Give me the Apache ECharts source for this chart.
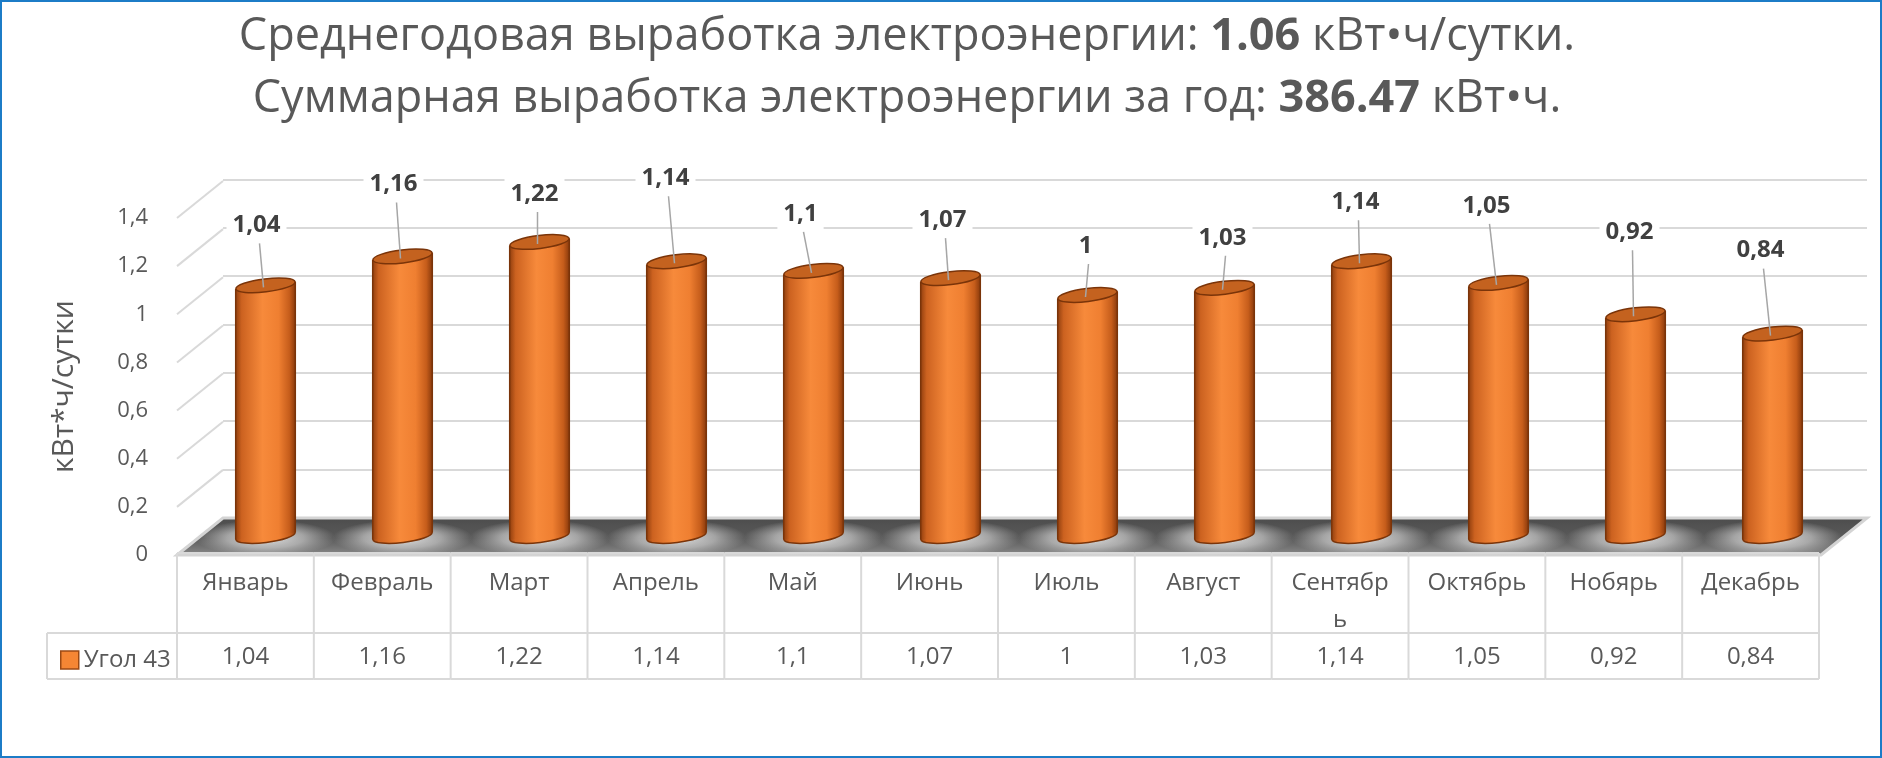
<!DOCTYPE html>
<html>
<head>
<meta charset="utf-8">
<script src="https://cdn.jsdelivr.net/npm/echarts/dist/echarts.min.js"></script>
<style>
html,body{margin:0;padding:0;background:#fff;}
#c{width:1882px;height:758px;}
</style>
</head>
<body>
<div id="c"></div>
<script>
// ---------- data ----------
const categories = ['Январь','Февраль','Март','Апрель','Май','Июнь','Июль','Август','Сентябрь','Октябрь','Нобярь','Декабрь'];
const values = [1.04, 1.16, 1.22, 1.14, 1.1, 1.07, 1, 1.03, 1.14, 1.05, 0.92, 0.84];
const seriesName = 'Угол 43';
const yTicks = [0, 0.2, 0.4, 0.6, 0.8, 1, 1.2, 1.4];
const titleLine1 = ['Среднегодовая выработка электроэнергии: ', '1.06', ' кВт•ч/сутки.'];
const titleLine2 = ['Суммарная выработка электроэнергии за год: ', '386.47', ' кВт•ч.'];
const yAxisTitle = 'кВт*ч/сутки';

// ---------- layout (label placement, as dragged in the original) ----------
const labelLift  = [60, 72, 48, 83, 57, 58, 49, 50, 59, 77, 82, 83];
const labelShift = [-9, -9, -5, -11, -13, -8, -2, -2, -6, -12, -6, -12];

const FONT = '"Open Sans", "DejaVu Sans", sans-serif';
const TXT = '#595959';
const GRIDC = '#D9D9D9';
const DEPTH_DX = 46, DEPTH_DY = -37;
const CELL_TEXT_MAX = 106;
const fmt = v => String(v).replace('.', ',');

// wrap a category name the way the table cell does (character wrap when too wide)
const measureCtx = document.createElement('canvas').getContext('2d');
function wrapCell(text, font, maxW) {
  measureCtx.font = font;
  if (measureCtx.measureText(text).width <= maxW) return text;
  const lines = [];
  let cur = '';
  for (const ch of text) {
    if (cur && measureCtx.measureText(cur + ch).width > maxW) { lines.push(cur); cur = ch; }
    else cur += ch;
  }
  if (cur) lines.push(cur);
  return lines.join('\n');
}

const chart = echarts.init(document.getElementById('c'));

function rich(parts) {
  return '{n|' + parts[0] + '}{b|' + parts[1] + '}{n|' + parts[2] + '}';
}
const titleRich = {
  n: {fontSize: 45, fontFamily: FONT, color: TXT, fontWeight: 'normal'},
  b: {fontSize: 45, fontFamily: FONT, color: TXT, fontWeight: 'bold'}
};

// diagonal gridlines (left side wall)
function renderDiag(params, api) {
  const p = api.coord([0, api.value(1)]);
  return {
    type: 'line',
    shape: {x1: p[0], y1: p[1], x2: p[0] + DEPTH_DX, y2: p[1] + DEPTH_DY},
    style: {stroke: GRIDC, lineWidth: 2}
  };
}

// floor
function renderFloor(params, api) {
  const a = api.coord([0, 0]);
  const b = api.coord([1, 0]);
  return {
    type: 'polygon',
    shape: {points: [[a[0], a[1]], [b[0], b[1]], [b[0] + DEPTH_DX, b[1] + DEPTH_DY], [a[0] + DEPTH_DX, a[1] + DEPTH_DY]]},
    style: {
      fill: new echarts.graphic.LinearGradient(0, 0, 0, 1, [
        {offset: 0, color: '#4c4c4c'},
        {offset: 0.55, color: '#5a5a5a'},
        {offset: 1, color: '#8e8e8e'}
      ]),
      stroke: '#D4D4D4', lineWidth: 3
    }
  };
}

// soft glow around bar bases
function renderHalo(params, api) {
  const base = api.coord([api.value(0), 0]);
  return {
    type: 'circle',
    shape: {cx: 0, cy: 0, r: 70},
    x: base[0], y: base[1] + 2,
    scaleY: 0.26,
    style: {
      fill: new echarts.graphic.RadialGradient(0.5, 0.5, 0.5, [
        {offset: 0, color: 'rgba(235,235,235,0.95)'},
        {offset: 0.55, color: 'rgba(215,215,215,0.6)'},
        {offset: 1, color: 'rgba(200,200,200,0)'}
      ])
    }
  };
}

// cylinders + data labels
function renderCylinder(params, api) {
  const i = api.value(0), v = api.value(1);
  const top = api.coord([i, v]);
  const base = api.coord([i, 0]);
  const bw = api.size([1, 0])[0] * 0.435;
  const rx = bw / 2, ry = 6.5, rot = 0.12, d = rx * Math.sin(rot);
  const cx = top[0];
  const grad = () => new echarts.graphic.LinearGradient(0, 0, 1, 0, [
    {offset: 0, color: '#93400F'},
    {offset: 0.1, color: '#CC6220'},
    {offset: 0.45, color: '#F78A3B'},
    {offset: 0.72, color: '#EF7F31'},
    {offset: 0.9, color: '#C65D1B'},
    {offset: 1, color: '#8A3A0C'}
  ]);
  const ly = top[1] - labelLift[i];
  const lx = cx + labelShift[i];
  return {
    type: 'group',
    children: [
      {type: 'ellipse', shape: {cx: 0, cy: 0, rx: rx, ry: ry}, x: cx, y: base[1], rotation: rot,
        style: {fill: grad(), stroke: '#7A3409', lineWidth: 1.5}},
      {type: 'polygon', shape: {points: [[cx - rx, top[1] + d], [cx + rx, top[1] - d], [cx + rx, base[1] - d], [cx - rx, base[1] + d]]},
        style: {fill: grad()}},
      {type: 'line', shape: {x1: cx - rx, y1: top[1] + d, x2: cx - rx, y2: base[1] + d}, style: {stroke: '#7A3409', lineWidth: 1.5}},
      {type: 'line', shape: {x1: cx + rx, y1: top[1] - d, x2: cx + rx, y2: base[1] - d}, style: {stroke: '#7A3409', lineWidth: 1.5}},
      {type: 'ellipse', shape: {cx: 0, cy: 0, rx: rx, ry: ry}, x: cx, y: top[1], rotation: rot,
        style: {fill: '#C4621F', stroke: '#7A3409', lineWidth: 1.5}},
      {type: 'line', shape: {x1: lx + 3, y1: ly + 18, x2: cx - 2, y2: top[1] + 2},
        style: {stroke: '#A6A6A6', lineWidth: 1.5}},
      {type: 'text', x: lx, y: ly,
        style: {text: fmt(v), align: 'center', verticalAlign: 'middle', font: 'bold 24px ' + FONT,
          fill: '#404040', backgroundColor: '#fff', padding: [3, 6]}}
    ]
  };
}

// data table
function renderTable(params, api) {
  const i = api.value(0);
  const cs = params.coordSys;
  const c = api.coord([i, 0]);
  const w = api.size([1, 0])[0];
  const x0 = c[0] - w / 2, x1 = c[0] + w / 2;
  const top = cs.y, mid = cs.y + 80, bot = cs.y + cs.height;
  const ls = {stroke: GRIDC, lineWidth: 2};
  const cellFont = '24px ' + FONT;
  const ch = [
    {type: 'line', shape: {x1: x0, y1: top, x2: x0, y2: bot}, style: ls},
    {type: 'line', shape: {x1: x0, y1: top, x2: x1, y2: top}, style: ls},
    {type: 'line', shape: {x1: x0, y1: mid, x2: x1, y2: mid}, style: ls},
    {type: 'line', shape: {x1: x0, y1: bot, x2: x1, y2: bot}, style: ls},
    {type: 'text', x: c[0], y: top + 12,
      style: {text: wrapCell(categories[i], cellFont, CELL_TEXT_MAX), align: 'center', verticalAlign: 'top',
        font: cellFont, fill: TXT, lineHeight: 37}},
    {type: 'text', x: c[0], y: (mid + bot) / 2 + 1,
      style: {text: fmt(api.value(1)), align: 'center', verticalAlign: 'middle', font: cellFont, fill: TXT}}
  ];
  if (i === categories.length - 1) {
    ch.push({type: 'line', shape: {x1: x1, y1: top, x2: x1, y2: bot}, style: ls});
  }
  if (i === 0) {
    const lx = x0 - 130;
    ch.push({type: 'line', shape: {x1: lx, y1: mid, x2: x0, y2: mid}, style: ls});
    ch.push({type: 'line', shape: {x1: lx, y1: bot, x2: x0, y2: bot}, style: ls});
    ch.push({type: 'line', shape: {x1: lx, y1: mid, x2: lx, y2: bot}, style: ls});
  }
  return {type: 'group', children: ch};
}

const option = {
  animation: false,
  backgroundColor: '#fff',
  title: [
    {text: rich(titleLine1), left: 902, top: 10, textAlign: 'center', textStyle: {rich: titleRich}},
    {text: rich(titleLine2), left: 902, top: 72, textAlign: 'center', textStyle: {rich: titleRich}}
  ],
  legend: {
    data: [{name: seriesName, itemStyle: {color: '#F58634', borderColor: '#9C4A14', borderWidth: 1.5}}],
    left: 55, top: 643, icon: 'rect', itemWidth: 18, itemHeight: 18, itemGap: 6,
    selectedMode: false,
    textStyle: {fontSize: 24, color: TXT, fontFamily: FONT}
  },
  graphic: [
    {type: 'rect', shape: {x: 1, y: 1, width: 1880, height: 756}, style: {fill: 'none', stroke: '#1C7CC7', lineWidth: 2}, z: 100}
  ],
  grid: [
    {left: 223, right: 15, top: 179.3, bottom: 240, outerBoundsMode: 'none'},
    {left: 177, right: 61, top: 218, bottom: 203, outerBoundsMode: 'none'},
    {left: 197, right: 41, top: 198.6, bottom: 222, outerBoundsMode: 'none'},
    {left: 177, right: 63, top: 553, bottom: 79, outerBoundsMode: 'none'}
  ],
  xAxis: [
    {gridIndex: 0, type: 'value', min: 0, max: 1, show: false},
    {gridIndex: 1, type: 'value', min: 0, max: 1, show: false},
    {gridIndex: 2, type: 'category', data: categories, show: false},
    {gridIndex: 3, type: 'category', data: categories, show: false}
  ],
  yAxis: [
    {gridIndex: 0, type: 'value', min: 0, max: 1.4, interval: 0.2,
      axisLine: {show: false}, axisTick: {show: false}, axisLabel: {show: false},
      splitLine: {show: true, lineStyle: {color: GRIDC, width: 2}}},
    {gridIndex: 1, type: 'value', min: 0, max: 1.4, interval: 0.2,
      axisLine: {show: false}, axisTick: {show: false}, splitLine: {show: false},
      axisLabel: {formatter: fmt, fontSize: 22, color: TXT, fontFamily: FONT, margin: 29},
      name: yAxisTitle, nameLocation: 'middle', nameGap: 98, nameRotate: 90,
      nameTextStyle: {fontSize: 30, color: TXT, fontFamily: FONT}},
    {gridIndex: 2, type: 'value', min: 0, max: 1.4, show: false},
    {gridIndex: 3, type: 'value', min: 0, max: 1, show: false}
  ],
  series: [
    {type: 'custom', name: 'diag', xAxisIndex: 1, yAxisIndex: 1, z: 1, silent: true,
      data: yTicks.map(v => [0, v]), renderItem: renderDiag, clip: false},
    {type: 'custom', name: 'floor', xAxisIndex: 1, yAxisIndex: 1, z: 2, silent: true,
      data: [[0, 0]], renderItem: renderFloor, clip: false},
    {type: 'custom', name: 'halo', xAxisIndex: 2, yAxisIndex: 2, z: 3, silent: true,
      data: values.map((v, i) => [i, v]), renderItem: renderHalo, clip: false},
    {type: 'custom', name: seriesName, xAxisIndex: 2, yAxisIndex: 2, z: 4,
      itemStyle: {color: '#F58634', borderColor: '#9C4A14', borderWidth: 1.5},
      data: values.map((v, i) => [i, v]), renderItem: renderCylinder, clip: false},
    {type: 'custom', name: 'table', xAxisIndex: 3, yAxisIndex: 3, z: 5, silent: true,
      data: values.map((v, i) => [i, v]), renderItem: renderTable, clip: false}
  ]
};
chart.setOption(option);
</script>
</body>
</html>
